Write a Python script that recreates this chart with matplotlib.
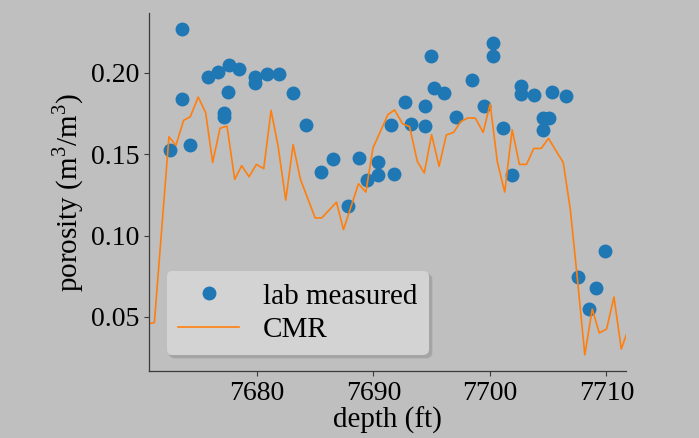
import numpy as np
import matplotlib
matplotlib.use('Agg')
import matplotlib.pyplot as plt

###############################################################################
# Data

# Lab core measurements
lab_depth = [7672.58, 7673.58, 7673.58, 7674.30, 7675.82, 7676.65, 7677.65,
             7678.48, 7677.51, 7677.22, 7677.22, 7679.85, 7679.85, 7680.88,
             7681.92, 7683.12, 7684.21, 7685.50, 7686.53, 7687.87, 7688.76,
             7689.42, 7690.36, 7690.36, 7691.80, 7691.51, 7692.71, 7693.23,
             7694.46, 7694.46, 7694.91, 7695.21, 7696.09, 7697.06, 7698.50,
             7699.50, 7700.24, 7700.24, 7701.10, 7701.93, 7702.71, 7702.71,
             7703.82, 7704.57, 7705.09, 7704.57, 7705.31, 7706.51, 7709.84,
             7707.54, 7709.09, 7708.52]
lab_poro = [0.1527, 0.2268, 0.1840, 0.1555, 0.1975, 0.2006, 0.2049,
            0.2026, 0.1883, 0.1756, 0.1731, 0.1975, 0.1936, 0.1994,
            0.1994, 0.1875, 0.1678, 0.1393, 0.1473, 0.1180, 0.1477,
            0.1340, 0.1450, 0.1375, 0.1381, 0.1680, 0.1822, 0.1688,
            0.1795, 0.1672, 0.2106, 0.1905, 0.1879, 0.1730, 0.1955,
            0.1797, 0.2182, 0.2106, 0.1660, 0.1375, 0.1918, 0.1868,
            0.1865, 0.1725, 0.1721, 0.1650, 0.1883, 0.1856, 0.0903,
            0.0744, 0.0676, 0.0549]

# CMR log
cmr_depth = [7670.75, 7671.22, 7672.47, 7673.07, 7673.73, 7674.30, 7674.98,
             7675.62, 7676.22, 7676.85, 7677.45, 7678.11, 7678.71, 7679.34,
             7679.97, 7680.60, 7681.23, 7681.83, 7682.49, 7683.12, 7683.75,
             7685.01, 7685.58, 7686.84, 7687.44, 7688.73, 7689.36, 7689.97,
             7691.25, 7691.82, 7692.51, 7693.11, 7693.77, 7694.37, 7695.00,
             7695.64, 7696.26, 7696.89, 7697.49, 7698.09, 7698.75, 7699.42,
             7700.02, 7700.64, 7701.27, 7701.91, 7702.53, 7703.14, 7703.76,
             7704.40, 7705.03, 7705.65, 7706.29, 7706.90, 7707.53, 7708.14,
             7708.78, 7709.38, 7710.01, 7710.64, 7711.27, 7711.70]
cmr_poro = [0.0459, 0.0465, 0.1608, 0.1555, 0.1709, 0.1731, 0.1852,
            0.1756, 0.1450, 0.1660, 0.1674, 0.1346, 0.1430, 0.1362,
            0.1438, 0.1412, 0.1770, 0.1551, 0.1219, 0.1559, 0.1346,
            0.1109, 0.1109, 0.1206, 0.1037, 0.1319, 0.1268, 0.1539,
            0.1744, 0.1773, 0.1688, 0.1670, 0.1457, 0.1385, 0.1621,
            0.1426, 0.1619, 0.1635, 0.1701, 0.1723, 0.1723, 0.1635,
            0.1809, 0.1453, 0.1268, 0.1651, 0.1438, 0.1438, 0.1536,
            0.1536, 0.1598, 0.1524, 0.1450, 0.1160, 0.0717, 0.0268,
            0.0549, 0.0402, 0.0426, 0.0623, 0.0303, 0.0391]

###############################################################################
# Style
plt.rcParams['font.family'] = ['Liberation Serif', 'DejaVu Serif']
plt.rcParams['mathtext.fontset'] = 'custom'
plt.rcParams['mathtext.rm'] = 'Liberation Serif'
plt.rcParams['font.size'] = 20

bg = '#bfbfbf'
fig, ax = plt.subplots(figsize=(6.99, 4.38), dpi=100)
fig.patch.set_facecolor(bg)
ax.set_facecolor(bg)
fig.subplots_adjust(left=0.213, right=0.896, bottom=0.153, top=0.970)

# Lab points, then CMR curve on top
ax.plot(lab_depth, lab_poro, 'o', color='#1f77b4', markersize=9,
        label='lab measured')
ax.plot(cmr_depth, cmr_poro, '-', color='#ff7f0e', linewidth=1.2,
        label='CMR')

ax.set_xlim(cmr_depth[0], cmr_depth[-1])
ax.set_xticks([7680, 7690, 7700, 7710])
ax.set_yticks([0.05, 0.10, 0.15, 0.20])
ax.set_yticklabels(['0.05', '0.10', '0.15', '0.20'])

# Only left and bottom spines
for side in ['top', 'right']:
    ax.spines[side].set_visible(False)
for side in ['left', 'bottom']:
    ax.spines[side].set_color('#3a3a3a')
    ax.spines[side].set_linewidth(0.9)
ax.tick_params(colors='#3a3a3a', labelcolor='black', labelsize=20)

ax.set_xlabel('depth (ft)', fontsize=21, labelpad=1)
ax.set_ylabel('porosity (m$^3$/m$^3$)', fontsize=21, labelpad=3)

leg = ax.legend(loc='lower left', bbox_to_anchor=(0.037, 0.045),
                borderaxespad=0, fontsize=21, facecolor='#d3d3d3',
                edgecolor='none', framealpha=1, fancybox=True,
                shadow={'color': '#a5a5a5', 'alpha': 1},
                borderpad=0.4, labelspacing=0.25, handletextpad=0.8,
                handlelength=2.1)

fig.savefig('out.png', dpi=100, facecolor=bg)
